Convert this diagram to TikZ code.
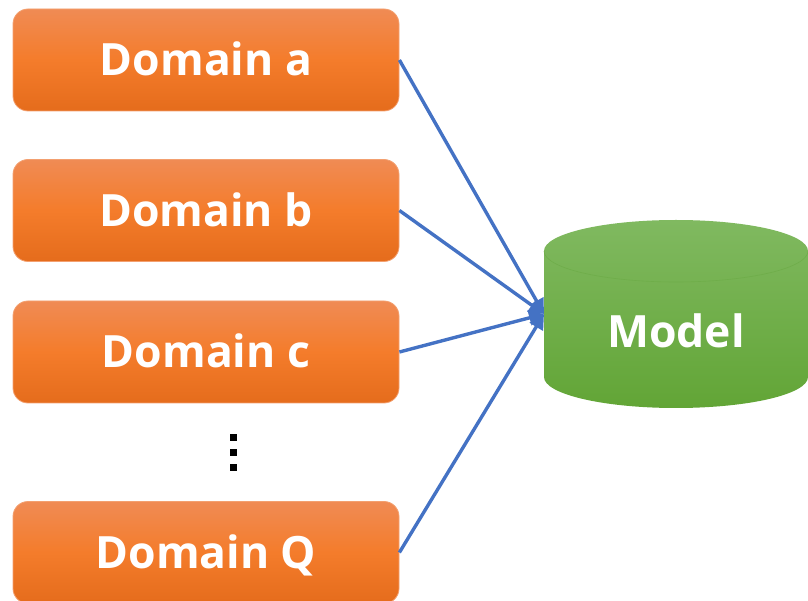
\documentclass[tikz,border=0pt]{standalone}
\usepackage{fontspec}
\setsansfont{Open Sans}
\usetikzlibrary{arrows.meta}
\definecolor{orangeTop}{HTML}{F08B54}
\definecolor{orangeMid}{HTML}{F47C2B}
\definecolor{orangeBot}{HTML}{E56C1C}
\definecolor{orangeEdge}{HTML}{F3A070}
\definecolor{greenTop}{HTML}{80B960}
\definecolor{greenBot}{HTML}{62A536}
\definecolor{greenEdge}{HTML}{6FAD4A}
\definecolor{linkBlue}{HTML}{4472C4}
\begin{document}
\begin{tikzpicture}[x=1pt,y=1pt,
  domainbox/.style={rectangle, rounded corners=15pt, minimum width=386pt,
    minimum height=102pt, draw=orangeEdge, line width=0.8pt,
    top color=orangeTop, bottom color=orangeBot, middle color=orangeMid,
    text=white, font=\sffamily\bfseries\fontsize{44.5}{50}\selectfont,
    text height=32pt, text depth=0pt},
  modellabel/.style={text=white, font=\sffamily\bfseries\fontsize{44.5}{50}\selectfont,
    text height=32pt, text depth=0pt},
  link/.style={draw=linkBlue, line width=3.4pt,
    -{Triangle[length=15pt,width=15pt]}},
  dot/.style={fill=black}]
\useasboundingbox (0,0) rectangle (808,600);
\clip (0,0) rectangle (808,600);

% domain boxes
\node[domainbox] (da) at (206,540)   {Domain a};
\node[domainbox] (db) at (206,389.5) {Domain b};
\node[domainbox] (dc) at (206,248)   {Domain c};
\node[domainbox] (dq) at (206,47.5)  {Domain Q};

% vertical ellipsis between c and Q
\fill[dot] (229.5,159.5) rectangle ++(7,7);
\fill[dot] (229.5,144.5) rectangle ++(7,7);
\fill[dot] (229.5,129.5) rectangle ++(7,7);

% model cylinder
\path[top color=greenTop, bottom color=greenBot]
  (544,349) -- (544,223)
  arc[start angle=180, end angle=360, x radius=132, y radius=31]
  -- (808,349)
  arc[start angle=0, end angle=180, x radius=132, y radius=31] -- cycle;
\draw[greenEdge, line width=0.6pt]
  (544,349) arc[start angle=180, end angle=360, x radius=132, y radius=31];
\node[modellabel] (model) at (676,268) {Model};
\coordinate (modelin) at (544,286);

% links into the model
\draw[link] (da.east) -- (modelin);
\draw[link] (db.east) -- (modelin);
\draw[link] (dc.east) -- (modelin);
\draw[link] (dq.east) -- (modelin);
\end{tikzpicture}
\end{document}
